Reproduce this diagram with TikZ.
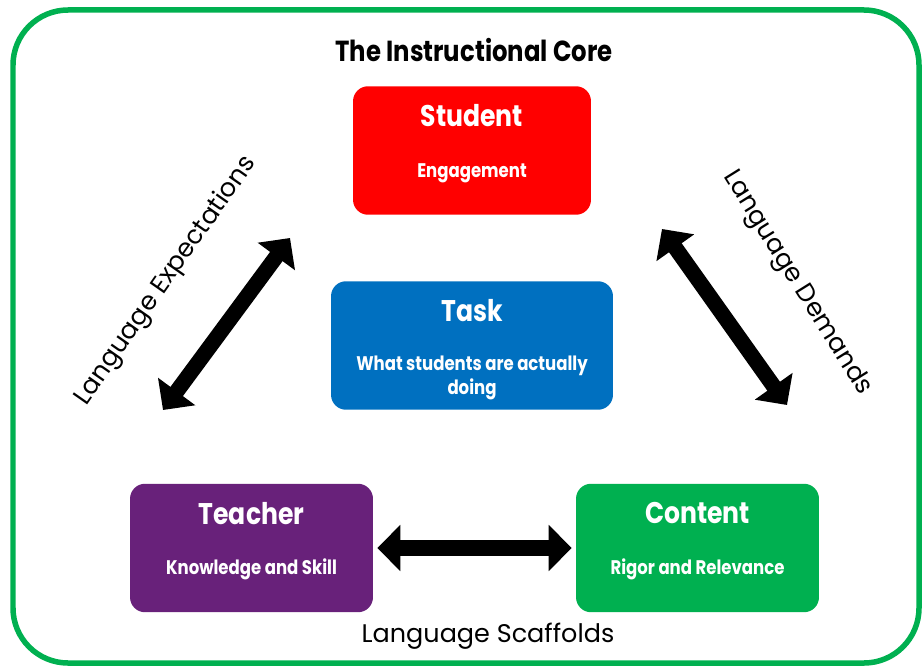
\documentclass[tikz,border=0pt]{standalone}
\usepackage{fontspec}
\setmainfont{Poppins}
\newfontfamily\boxfont{Poppins}[FakeStretch=0.84]
\usetikzlibrary{arrows.meta,positioning}

\definecolor{corered}{HTML}{FF0000}
\definecolor{coreblue}{HTML}{0070C0}
\definecolor{corepurple}{HTML}{68217A}
\definecolor{coregreen}{HTML}{00B050}

\begin{document}
\begin{tikzpicture}[x=0.02cm,y=-0.02cm,
  corebox/.style={rounded corners=0.3cm,inner sep=0,
    minimum width=4.86cm,minimum height=2.57cm},
  boxtitle/.style={text=white,inner sep=0,font=\boxfont\bfseries\fontsize{17}{20}\selectfont},
  boxsub/.style={text=white,inner sep=0,align=center,
    font=\boxfont\bfseries\fontsize{11.2}{13.6}\selectfont},
  sidelabel/.style={inner sep=0,font=\fontsize{14.5}{17}\selectfont},
  dblarrow/.style={line width=0.31cm,
    {Triangle[length=0.46cm,width=0.9cm]}-{Triangle[length=0.46cm,width=0.9cm]}}]
  \useasboundingbox (0,0) rectangle (922,669);
  % frame
  \draw[coregreen,line width=0.11cm,rounded corners=1.1cm] (13,10) rectangle (919,663);
  \node[inner sep=0,font=\boxfont\bfseries\fontsize{16.5}{19}\selectfont] (core) at (474,50) {The Instructional Core};

  % the four boxes
  \node[corebox,fill=corered] (stu) at (472,150.5) [minimum width=4.76cm] {};
  \node[corebox,fill=coreblue] (task) at (472,345.5) [minimum width=5.64cm] {};
  \node[corebox,fill=corepurple] (teach) at (251.5,548) {};
  \node[corebox,fill=coregreen] (cont) at (697.5,548) {};

  \node[boxtitle,below=0.6cm of stu.north,anchor=center] (stut) {Student};
  \node[boxsub,below=1.74cm of stu.north,anchor=center] (stus) {Engagement};
  \node[boxtitle,below=0.6cm of task.north,anchor=center] (taskt) {Task};
  \node[boxsub,below=1.94cm of task.north,anchor=center] (tasks) {What students are actually\\doing};
  \node[boxtitle,below=0.6cm of teach.north,anchor=center] (teacht) {Teacher};
  \node[boxsub,below=1.72cm of teach.north,anchor=center] (teachs) {Knowledge and Skill};
  \node[boxtitle,below=0.6cm of cont.north,anchor=center] (contt) {Content};
  \node[boxsub,below=1.72cm of cont.north,anchor=center] (conts) {Rigor and Relevance};

  % arrows
  \coordinate (expa) at (290,238);
  \coordinate (expb) at (163,410);
  \coordinate (dema) at (662,229);
  \coordinate (demb) at (787,405);
  \draw[dblarrow] (expa) -- (expb);
  \draw[dblarrow] (dema) -- (demb);
  \draw[dblarrow,shorten <=0.08cm,shorten >=0.08cm] (teach.east) -- (cont.west);

  % labels
  \node[sidelabel,rotate=55] (exp) at (166,281) {Language Expectations};
  \node[sidelabel,rotate=-58] (dem) at (797,283) {Language Demands};
  \node[sidelabel] (scaf) at (488,636) {Language Scaffolds};
\end{tikzpicture}
\end{document}
